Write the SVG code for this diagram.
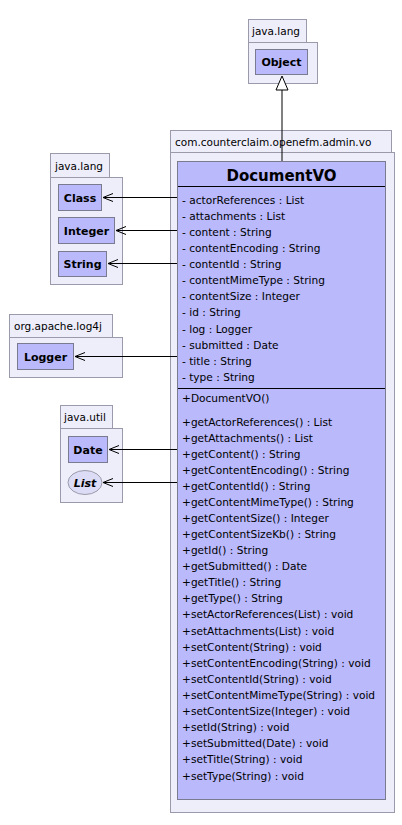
<svg xmlns="http://www.w3.org/2000/svg" width="402" height="825" viewBox="0 0 402 825">
<defs>
<style>
.pkg{fill:#eeeefb;stroke:#9a9aaa;stroke-width:1}
.cls{fill:#b9b9fc;stroke:#7a7a90;stroke-width:1}
.ptxt{font-family:"DejaVu Sans",sans-serif;font-size:10.5px;fill:#000}
.ctxt{font-family:"DejaVu Sans",sans-serif;font-size:11px;font-weight:bold;fill:#000}
.mtxt{font-family:"DejaVu Sans",sans-serif;font-size:10.6px;fill:#000}
.sep{stroke:#000;stroke-width:1}
.dep{stroke:#000;stroke-width:1;fill:none;marker-end:url(#open)}
</style>
<marker id="open" markerUnits="userSpaceOnUse" markerWidth="12" markerHeight="12" refX="11" refY="6" orient="auto" viewBox="0 0 12 12">
<path d="M1,2 L11,6 L1,10" fill="none" stroke="#000" stroke-width="1"/>
</marker>
</defs>

<g id="pkg-java-lang-object">
<rect class="pkg" x="248.5" y="19.5" width="58" height="23"/>
<rect class="pkg" x="248.5" y="42.5" width="69" height="41"/>
<text class="ptxt" x="252" y="35">java.lang</text>
</g>
<g id="Object">
<rect class="cls" x="255.5" y="49.5" width="52" height="25"/>
<text class="ctxt" x="281.5" y="66" text-anchor="middle">Object</text>
</g>

<g id="pkg-vo">
<rect class="pkg" x="170.5" y="130.5" width="221" height="22"/>
<rect class="pkg" x="170.5" y="152.5" width="224" height="660"/>
<text class="ptxt" x="175" y="146">com.counterclaim.openefm.admin.vo</text>
</g>

<g id="pkg-java-lang">
<rect class="pkg" x="50.5" y="153.5" width="59" height="24"/>
<rect class="pkg" x="50.5" y="177.5" width="72" height="107"/>
<text class="ptxt" x="55" y="170">java.lang</text>
</g>
<g id="Class">
<rect class="cls" x="58.5" y="184.5" width="43" height="26"/>
<text class="ctxt" x="80" y="201.5" text-anchor="middle">Class</text>
</g>
<g id="Integer">
<rect class="cls" x="58.5" y="217.5" width="56" height="26"/>
<text class="ctxt" x="86.5" y="234.5" text-anchor="middle">Integer</text>
</g>
<g id="String">
<rect class="cls" x="58.5" y="251.5" width="48" height="25"/>
<text class="ctxt" x="82.5" y="268" text-anchor="middle">String</text>
</g>

<g id="pkg-log4j">
<rect class="pkg" x="9.5" y="314.5" width="103" height="23"/>
<rect class="pkg" x="9.5" y="337.5" width="113" height="40"/>
<text class="ptxt" x="14" y="330">org.apache.log4j</text>
</g>
<g id="Logger">
<rect class="cls" x="17.5" y="343.5" width="56" height="26"/>
<text class="ctxt" x="45.5" y="360.5" text-anchor="middle">Logger</text>
</g>

<g id="pkg-java-util">
<rect class="pkg" x="60.5" y="405.5" width="52" height="23"/>
<rect class="pkg" x="60.5" y="428.5" width="62" height="74"/>
<text class="ptxt" x="64" y="421">java.util</text>
</g>
<g id="Date">
<rect class="cls" x="68.5" y="436.5" width="39" height="26"/>
<text class="ctxt" x="88" y="453.5" text-anchor="middle">Date</text>
</g>
<g id="List">
<ellipse cx="85" cy="482.5" rx="17" ry="12" fill="#dcdcf6" stroke="#9a9aaa"/>
<text class="ctxt" x="85" y="486.5" text-anchor="middle" font-style="italic">List</text>
</g>

<g id="DocumentVO">
<rect class="cls" x="177.5" y="161.5" width="208" height="638"/>
<text x="281.5" y="181" text-anchor="middle" font-family="DejaVu Sans,sans-serif" font-size="15" font-weight="bold">DocumentVO</text>
<line class="sep" x1="178" y1="186.5" x2="385" y2="186.5"/>
<g class="mtxt">
<text x="182" y="204">- actorReferences : List</text>
<text x="182" y="220">- attachments : List</text>
<text x="182" y="236">- content : String</text>
<text x="182" y="252">- contentEncoding : String</text>
<text x="182" y="268">- contentId : String</text>
<text x="182" y="284">- contentMimeType : String</text>
<text x="182" y="300">- contentSize : Integer</text>
<text x="182" y="316">- id : String</text>
<text x="182" y="333">- log : Logger</text>
<text x="182" y="349">- submitted : Date</text>
<text x="182" y="365">- title : String</text>
<text x="182" y="381">- type : String</text>
</g>
<line class="sep" x1="178" y1="388.5" x2="385" y2="388.5"/>
<g class="mtxt">
<text x="182" y="402">+DocumentVO()</text>
<text x="182" y="426">+getActorReferences() : List</text>
<text x="182" y="442">+getAttachments() : List</text>
<text x="182" y="458">+getContent() : String</text>
<text x="182" y="474">+getContentEncoding() : String</text>
<text x="182" y="490">+getContentId() : String</text>
<text x="182" y="506">+getContentMimeType() : String</text>
<text x="182" y="522">+getContentSize() : Integer</text>
<text x="182" y="538">+getContentSizeKb() : String</text>
<text x="182" y="554">+getId() : String</text>
<text x="182" y="570">+getSubmitted() : Date</text>
<text x="182" y="586">+getTitle() : String</text>
<text x="182" y="602">+getType() : String</text>
<text x="182" y="618">+setActorReferences(List) : void</text>
<text x="182" y="635">+setAttachments(List) : void</text>
<text x="182" y="651">+setContent(String) : void</text>
<text x="182" y="667">+setContentEncoding(String) : void</text>
<text x="182" y="683">+setContentId(String) : void</text>
<text x="182" y="699">+setContentMimeType(String) : void</text>
<text x="182" y="715">+setContentSize(Integer) : void</text>
<text x="182" y="731">+setId(String) : void</text>
<text x="182" y="747">+setSubmitted(Date) : void</text>
<text x="182" y="763">+setTitle(String) : void</text>
<text x="182" y="780">+setType(String) : void</text>
</g>
</g>

<g id="connectors">
<line x1="282" y1="161" x2="282" y2="90" stroke="#000"/>
<path d="M282,76 L288,90 L276,90 Z" fill="#fff" stroke="#000"/>
<line class="dep" x1="177" y1="197.5" x2="103" y2="197.5"/>
<line class="dep" x1="177" y1="230.5" x2="116" y2="230.5"/>
<line class="dep" x1="177" y1="263.5" x2="108" y2="263.5"/>
<line class="dep" x1="177" y1="356.5" x2="75" y2="356.5"/>
<line class="dep" x1="177" y1="449.5" x2="109" y2="449.5"/>
<line class="dep" x1="177" y1="482.5" x2="103" y2="482.5"/>
</g>
</svg>
